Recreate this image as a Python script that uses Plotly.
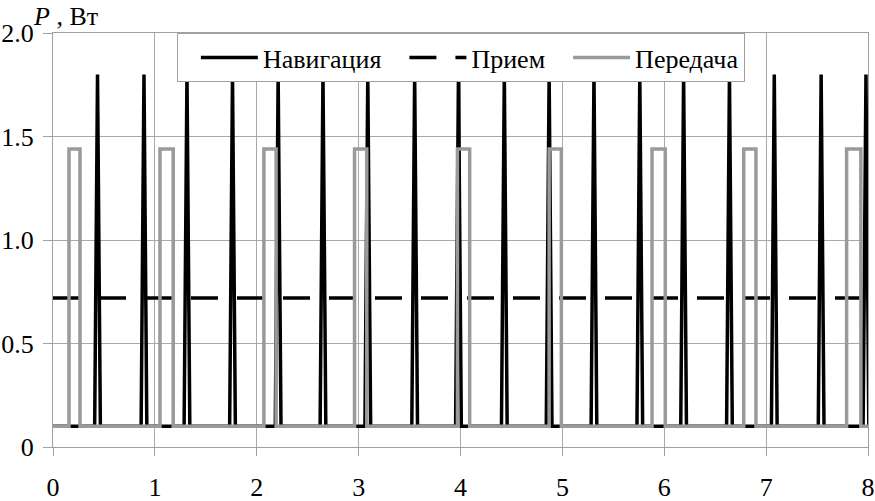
import plotly.graph_objects as go

# Навигация: times of the power spikes, levels in W
nav_peaks = [0.437, 0.893, 1.315, 1.762, 2.21, 2.65, 3.09, 3.55, 3.98,
             4.43, 4.87, 5.31, 5.76, 6.19, 6.64, 7.08, 7.54, 7.98]
nav_base = 0.1
nav_peak = 1.8

# Прием: constant level
rx_level = 0.72

# Передача: pulse start / end times, levels in W
tx_starts = [0.157, 1.05, 2.07, 2.96, 3.97, 4.87, 5.88, 6.78, 7.79]
tx_ends = [0.265, 1.18, 2.19, 3.08, 4.09, 4.99, 6.01, 6.90, 7.93]
tx_base = 0.1
tx_peak = 1.44

t_min, t_max = 0, 8
x_ticks = [0, 1, 2, 3, 4, 5, 6, 7, 8]
y_ticks = [0, 0.5, 1.0, 1.5, 2.0]
y_labels = ['0', '0.5', '1.0', '1.5', '2.0']

spike_half = 0.028  # half width of a navigation spike at its base

# build step / spike polylines from the lists above
nav_x, nav_y = [t_min], [nav_base]
for p in nav_peaks:
    nav_x += [p - spike_half, p, p + spike_half]
    nav_y += [nav_base, nav_peak, nav_base]
nav_x.append(t_max + 0.1)
nav_y.append(nav_base)

tx_x, tx_y = [t_min], [tx_base]
for s, e in zip(tx_starts, tx_ends):
    tx_x += [s, s, e, e]
    tx_y += [tx_base, tx_peak, tx_peak, tx_base]
tx_x.append(t_max)
tx_y.append(tx_base)

serif = 'Liberation Serif'

fig = go.Figure()
fig.add_trace(go.Scatter(x=nav_x, y=nav_y, mode='lines', name='Навигация',
                         line=dict(color='black', width=3.5)))
fig.add_trace(go.Scatter(x=[t_min, t_max], y=[rx_level, rx_level], mode='lines',
                         name='Прием',
                         line=dict(color='black', width=3.5, dash='27px,19px')))
fig.add_trace(go.Scatter(x=tx_x, y=tx_y, mode='lines', name='Передача',
                         line=dict(color='#9a9a9a', width=3.5)))

fig.update_layout(
    width=875, height=501,
    margin=dict(l=53, r=7, t=33, b=54, autoexpand=False),
    plot_bgcolor='white', paper_bgcolor='white',
    font=dict(family=serif, size=26, color='black'),
    showlegend=True,
    legend=dict(orientation='h', x=0.152, y=1, xanchor='left', yanchor='top',
                bgcolor='white', bordercolor='#a0a0a0', borderwidth=1,
                tracegroupgap=0, itemwidth=57, indentation=18),
    xaxis=dict(range=[t_min, t_max], tickvals=x_ticks, showgrid=True,
               gridcolor='#a8a8a8', gridwidth=1, zeroline=False, automargin=False,
               showline=True, linecolor='#a0a0a0', linewidth=1, mirror=True,
               ticks='outside', ticklen=8, tickcolor='#a0a0a0',
               ticklabelstandoff=9),
    yaxis=dict(range=[0, 2.0], tickvals=y_ticks, ticktext=y_labels, automargin=False,
               showgrid=True, gridcolor='#a8a8a8', gridwidth=1, zeroline=False,
               showline=True, linecolor='#a0a0a0', linewidth=1, mirror=True,
               ticks='outside', ticklen=9, tickcolor='#a0a0a0',
               ticklabelstandoff=4),
    annotations=[dict(text='<i>P</i> , Вт', showarrow=False,
                      xref='paper', yref='paper',
                      x=(31 - 53) / 815, y=1 + (33 - 16) / 414,
                      xanchor='left', yanchor='middle')],
)

# the page body has an 8px default margin; drop it so the chart sits at 0,0
fig.write_html("out.html", config={'displayModeBar': False},
               post_script="document.body.style.margin='0';")
